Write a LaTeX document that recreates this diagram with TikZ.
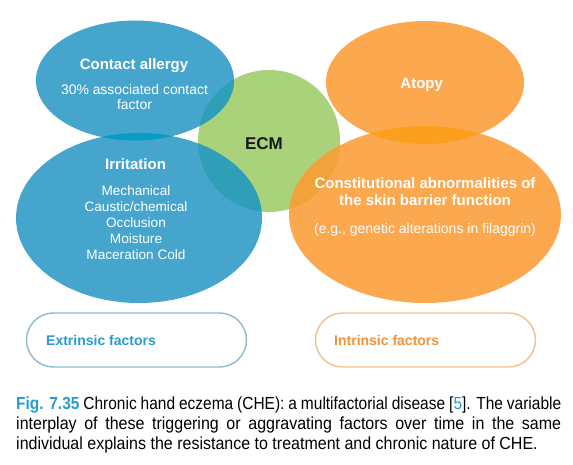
\documentclass[tikz,border=0pt]{standalone}
\usepackage{fontspec}
\setmainfont{Liberation Sans}
\newfontfamily\capfont[FakeStretch=0.915]{Liberation Sans}
\newfontfamily\capfontfirst[FakeStretch=0.885]{Liberation Sans}
\definecolor{blu}{HTML}{46A5CD}
\definecolor{bluov}{HTML}{069CC5}
\definecolor{grn}{HTML}{AAD27B}
\definecolor{tealov}{HTML}{2F9FB7}
\definecolor{org}{HTML}{FCA84E}
\definecolor{orgov}{HTML}{FC9E1E}
\definecolor{orgrn}{HTML}{F1A23A}
\definecolor{figblue}{HTML}{2A9AD0}
\definecolor{extblue}{HTML}{2B9BCB}
\definecolor{extborder}{HTML}{8DBBD0}
\definecolor{intorange}{HTML}{F7903A}
\definecolor{intborder}{HTML}{F5C18A}
\begin{document}
\begin{tikzpicture}[x=1pt,y=-1pt,
  lbl/.style={text=white, inner sep=0pt, align=center},
  ttl/.style={lbl, font=\fontsize{15}{17.7}\selectfont\bfseries},
  bodytxt/.style={lbl, font=\fontsize{13.6}{15.9}\selectfont},
  pill/.style={draw, line width=1.4pt, rounded corners=27pt, minimum width=220pt, minimum height=54pt, inner sep=0pt},
  factor/.style={font=\fontsize{14}{16}\selectfont\bfseries, inner sep=0pt, anchor=base west}]
\useasboundingbox (0,0) rectangle (573,465);
\fill[white] (0,0) rectangle (573,465);
\def\ecm{(269,141) circle[radius=71]}
\def\ca{(135,80.5) ellipse[x radius=99, y radius=60]}
\def\irr{(139,218) ellipse[x radius=123, y radius=85]}
\def\atp{(425,82.5) ellipse[x radius=99, y radius=61.5]}
\def\cst{(425,214.5) ellipse[x radius=136, y radius=88.5]}
% shapes
\fill[grn] \ecm;
\fill[blu] \ca;
\fill[blu] \irr;
\fill[org] \atp;
\fill[org] \cst;
% overlaps
\begin{scope}\clip \ca; \fill[bluov] \irr; \end{scope}
\begin{scope}\clip \ca; \fill[tealov] \ecm; \end{scope}
\begin{scope}\clip \irr; \fill[tealov] \ecm; \end{scope}
\begin{scope}\clip \atp; \fill[orgov] \cst; \end{scope}
\begin{scope}\clip \cst; \fill[orgrn] \ecm; \end{scope}
\begin{scope}\clip \atp; \fill[orgrn] \ecm; \end{scope}
% texts (multi-line nodes: base = baseline of last line)
\node[ttl, anchor=base] (cat) at (134,69.5) {Contact allergy};
\node[bodytxt, anchor=base, font=\fontsize{13.9}{15.9}\selectfont] (cab) at (134.5,110) {30\% associated contact\\factor};
\node[ttl, anchor=base] (irt) at (135.5,169.3) {Irritation};
\node[bodytxt, anchor=base] (irb) at (136,259.3) {Mechanical\\Caustic/chemical\\Occlusion\\Moisture\\Maceration Cold};
\node[lbl, text=black!90, anchor=base, font=\fontsize{17}{20}\selectfont\bfseries] (ecmt) at (264,149.3) {ECM};
\node[ttl, anchor=base] (att) at (421.7,88.3) {Atopy};
\node[ttl, anchor=base] (cstt) at (425,206) {Constitutional abnormalities of\\the skin barrier function};
\node[lbl, anchor=base, font=\fontsize{14}{16}\selectfont] (cstb) at (425,233.3) {(e.g., genetic alterations in filaggrin)};
% factor boxes
\node[pill, draw=extborder] (extbox) at (136.5,340) {};
\node[pill, draw=intborder] (intbox) at (425.5,340) {};
\node[factor, text=extblue] (extt) at (46,345) {Extrinsic factors};
\node[factor, text=intorange] (intt) at (334,345) {Intrinsic factors};
% caption
\node[anchor=base west, inner sep=0pt] (cap) at (16,409.5) {\vtop{\hsize=545pt\capfont\fontsize{17.5}{20}\selectfont\parindent=0pt
\makebox[545pt][s]{\capfontfirst\textcolor{figblue}{\bfseries Fig. 7.35} Chronic hand eczema (CHE): a multifactorial disease [\textcolor{figblue}{5}]. The variable}\par
\makebox[545pt][s]{interplay of these triggering or aggravating factors over time in the same}\par
individual explains the resistance to treatment and chronic nature of CHE.\par}};
\end{tikzpicture}
\end{document}
